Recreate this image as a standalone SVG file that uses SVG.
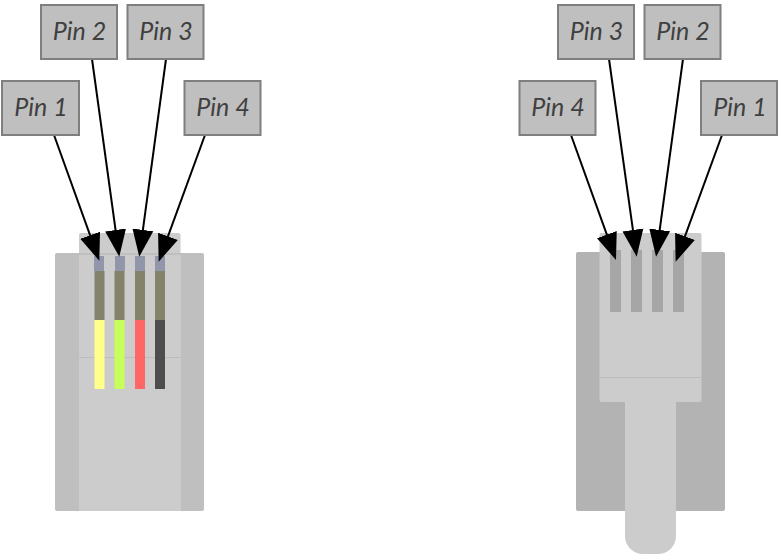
<svg xmlns="http://www.w3.org/2000/svg" width="779" height="555" viewBox="0 0 779 555">
<style>
.lbl rect{fill:#bfbfbf;stroke:#7f7f7f;stroke-width:2}
.lbl text{font-family:"Lato","Open Sans","Liberation Sans",sans-serif;font-style:italic;font-size:25px;fill:#404040;text-anchor:middle}
.c line{stroke:#000;stroke-width:2;marker-end:url(#a)}
.lite{fill:#cccccc}
.shL{fill:#bfbfbf}
.shR{fill:#b3b3b3}
.edge{stroke:#bdbdbd;stroke-width:1;fill:none}
.blade{fill:#a6a6a6}
</style>
<defs>
<marker id="a" markerUnits="userSpaceOnUse" markerWidth="30" markerHeight="24" refX="17" refY="12" orient="auto" viewBox="0 0 30 24">
<path d="M0 1.500L27 12L0 22.500Z" fill="#000"/>
</marker>
</defs>
<g id="plug-front">
<rect class="lite" x="79" y="233" width="101.500" height="30" rx="2"/>
<rect class="shL" x="55" y="253" width="149" height="258" rx="2"/>
<rect class="lite" x="79" y="255" width="102" height="256"/>
<line class="edge" x1="79" y1="357.500" x2="181" y2="357.500"/>
<rect x="94" y="256" width="10" height="15" fill="#9296ab"/>
<rect x="115" y="256" width="10" height="15" fill="#9296ab"/>
<rect x="135" y="256" width="10" height="15" fill="#9296ab"/>
<rect x="155" y="256" width="10" height="15" fill="#9296ab"/>
<rect x="94.500" y="271" width="10" height="49" fill="#83826b"/>
<rect x="114.500" y="271" width="10" height="49" fill="#83826b"/>
<rect x="135" y="271" width="10" height="49" fill="#83826b"/>
<rect x="155" y="271" width="10" height="49" fill="#83826b"/>
<rect x="94.500" y="320" width="10" height="69" fill="#ffff8c"/>
<rect x="114.500" y="320" width="10" height="69" fill="#c6ff57"/>
<rect x="135" y="320" width="10" height="69" fill="#ff6666"/>
<rect x="155" y="320" width="10" height="69" fill="#4d4d4d"/>
</g>
<g id="plug-back">
<rect class="shR" x="576" y="252" width="149" height="259" rx="2"/>
<path class="lite" d="M625 400H676V536A18 18 0 0 1 658 554H643A18 18 0 0 1 625 536Z"/>
<rect class="lite" x="599.500" y="233" width="102" height="169" rx="2"/>
<line class="edge" x1="600" y1="377.500" x2="701" y2="377.500"/>
<rect class="blade" x="610" y="250" width="11" height="62"/>
<rect class="blade" x="631" y="250" width="11" height="62"/>
<rect class="blade" x="652" y="250" width="11" height="62"/>
<rect class="blade" x="673" y="250" width="11" height="62"/>
</g>
<g id="connectors" class="c">
<line x1="54" y1="135" x2="95.900" y2="251.300"/>
<line x1="92" y1="59" x2="117.900" y2="246.800"/>
<line x1="166" y1="59" x2="140.600" y2="246.800"/>
<line x1="205" y1="135" x2="162.100" y2="252.300"/>
<line x1="571" y1="135" x2="612.600" y2="250.600"/>
<line x1="609" y1="59" x2="635.300" y2="246.800"/>
<line x1="683" y1="59" x2="657.400" y2="246.800"/>
<line x1="722" y1="135" x2="679.100" y2="252.300"/>
</g>
<g id="pin1-left" class="lbl"><rect x="2" y="81" width="77" height="54"/><text x="41" y="116">Pin 1</text></g>
<g id="pin2-left" class="lbl"><rect x="41" y="5" width="76" height="54"/><text x="79.500" y="40">Pin 2</text></g>
<g id="pin3-left" class="lbl"><rect x="127.500" y="5" width="76" height="54"/><text x="166" y="40">Pin 3</text></g>
<g id="pin4-left" class="lbl"><rect x="184.500" y="81" width="76" height="54"/><text x="223" y="116">Pin 4</text></g>
<g id="pin4-right" class="lbl"><rect x="519.500" y="81" width="76" height="54"/><text x="558" y="116">Pin 4</text></g>
<g id="pin3-right" class="lbl"><rect x="558" y="5" width="76" height="54"/><text x="596.500" y="40">Pin 3</text></g>
<g id="pin2-right" class="lbl"><rect x="644.500" y="5" width="76" height="54"/><text x="683" y="40">Pin 2</text></g>
<g id="pin1-right" class="lbl"><rect x="701" y="81" width="76" height="54"/><text x="740" y="116">Pin 1</text></g>
</svg>
